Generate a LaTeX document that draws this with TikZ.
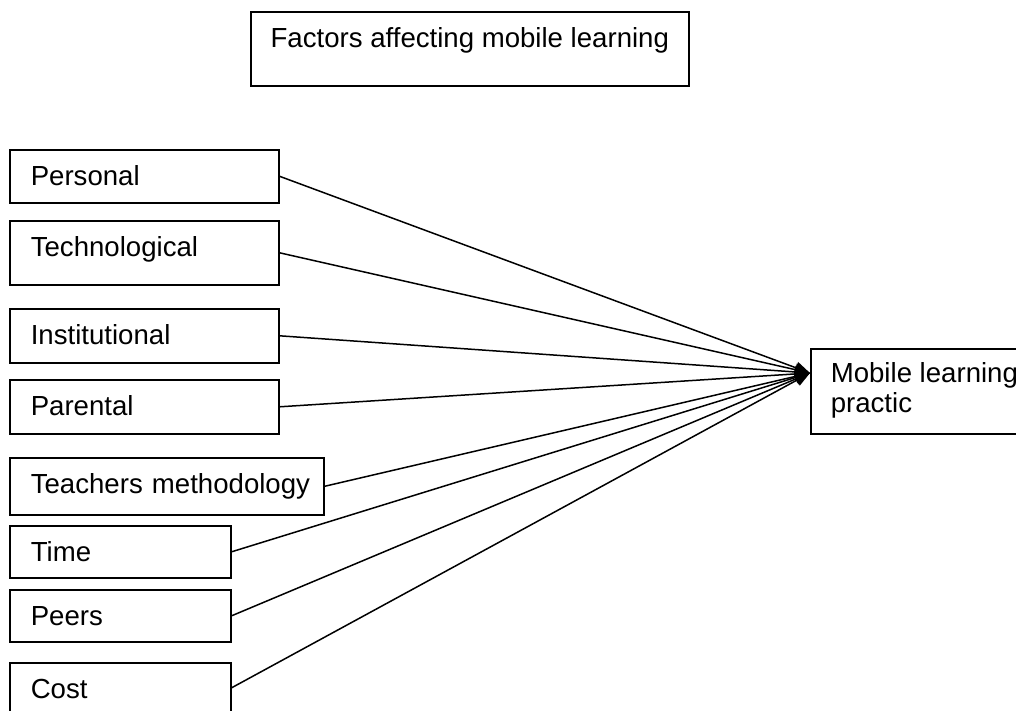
\documentclass[tikz,border=0pt]{standalone}
\usepackage{fontspec}
\setmainfont{Liberation Sans}
\usetikzlibrary{arrows.meta}
\begin{document}
\begin{tikzpicture}[x=1pt,y=-1pt,
  lbl/.style={font=\fontsize{27.6}{30}\selectfont},
  fbox/.style={lbl, draw, line width=1.6pt, anchor=north west, inner xsep=21pt, inner ysep=0pt, text height=36pt, align=left},
  link/.style={line width=1.5pt, -{Triangle[length=15pt,width=12pt]}}]
\clip (0,0) rectangle (1016,711);
\fill[white] (0,0) rectangle (1016,711);
% title
\node[lbl, draw, line width=1.6pt, anchor=north west, inner sep=0pt, minimum width=438pt, text height=36pt, text depth=38pt] (title) at (250,11) {Factors affecting mobile learning};
% factor boxes
\node[fbox, text width=227pt, text depth=17pt] (pers) at (9,149) {Personal};
\node[fbox, text width=227pt, text depth=28pt] (tech) at (9,220) {Technological};
\node[fbox, text width=227pt, text depth=18pt] (inst) at (9,308) {Institutional};
\node[fbox, text width=227pt, text depth=18pt] (par) at (9,379) {Parental};
\node[fbox, text width=272pt, text depth=21pt] (teach) at (9,457) {\mbox{Teachers methodology}};
\node[fbox, text width=179pt, text depth=16pt] (time) at (9,525) {Time};
\node[fbox, text width=179pt, text depth=16pt] (peers) at (9,589) {Peers};
\node[fbox, text width=179pt, text depth=14pt] (cost) at (9,662) {Cost};
% target
\node[lbl, draw, line width=1.6pt, anchor=north west, inner xsep=20pt, inner ysep=0pt, text height=34pt, text depth=51pt] (mlp) at (810,348) {\parbox[t]{200pt}{Mobile learning\\practic}};
\coordinate (tip) at (810,373);
% connectors
\foreach \n in {pers,tech,inst,par,teach,time,peers,cost}
  \draw[link] (\n.east) -- (tip);
\end{tikzpicture}
\end{document}
